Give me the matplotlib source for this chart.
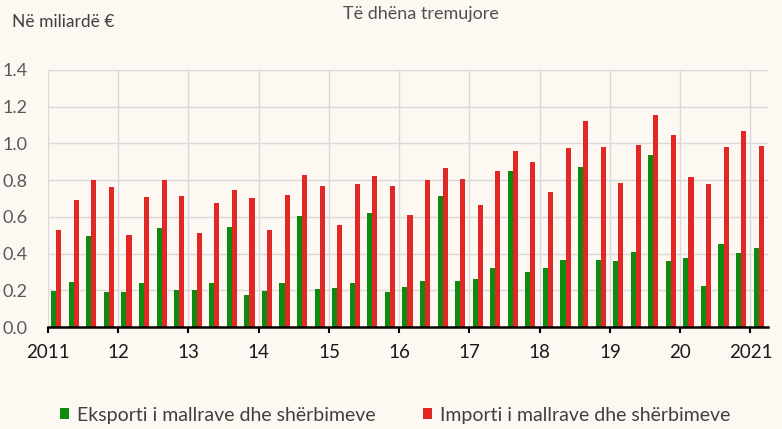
import matplotlib.pyplot as plt
import numpy as np

# quarterly data 2011Q1 - 2021Q1, billions of euro
year_labels = ["2011", "12", "13", "14", "15", "16", "17", "18", "19", "20", "2021"]
exports = [0.197, 0.244, 0.495, 0.189,
           0.189, 0.237, 0.537, 0.202,
           0.204, 0.237, 0.544, 0.173,
           0.194, 0.237, 0.604, 0.209,
           0.211, 0.242, 0.621, 0.189,
           0.220, 0.248, 0.714, 0.248,
           0.260, 0.324, 0.848, 0.297,
           0.324, 0.366, 0.872, 0.366,
           0.357, 0.406, 0.938, 0.357,
           0.377, 0.226, 0.451, 0.402,
           0.433]
imports = [0.526, 0.694, 0.799, 0.763,
           0.499, 0.708, 0.801, 0.714,
           0.512, 0.675, 0.746, 0.705,
           0.528, 0.719, 0.828, 0.766,
           0.553, 0.777, 0.823, 0.766,
           0.608, 0.801, 0.865, 0.808,
           0.663, 0.852, 0.958, 0.897,
           0.735, 0.976, 1.123, 0.981,
           0.783, 0.992, 1.156, 1.045,
           0.816, 0.777, 0.981, 1.069,
           0.987]

bg = "#FDF8F1"
green = "#0E8A0E"
red = "#E22824"
plt.rcParams["font.family"] = ["Lato", "DejaVu Sans"]

fig = plt.figure(figsize=(7.82, 4.29), dpi=100, facecolor=bg)
ax = fig.add_axes([48 / 782, 1 - 327 / 429, 720 / 782, 257 / 429])
ax.set_facecolor(bg)

x = np.arange(len(exports)) + 0.47
w = 0.29
ax.bar(x - w / 2, exports, w, color=green, label="Eksporti i mallrave dhe shërbimeve", zorder=3)
ax.bar(x + w / 2, imports, w, color=red, label="Importi i mallrave dhe shërbimeve", zorder=3)

ax.set_xlim(0, len(exports))
ax.set_ylim(0, 1.4)
ax.set_yticks(np.arange(0, 1.41, 0.2))
ax.set_yticklabels([f"{v:.1f}" for v in np.arange(0, 1.41, 0.2)], color="#595959", fontsize=13)
ax.set_xticks(np.arange(0, 41, 4))
ax.set_xticklabels(year_labels, fontsize=13.5, color="#1a1a1a")
ax.tick_params(axis="y", length=0, pad=15)
ax.tick_params(axis="x", length=4.5, width=1.5, color="black", pad=8)
ax.grid(True, color="#D9D9D9", linewidth=1, zorder=0)
for s in ["top", "right", "left"]:
    ax.spines[s].set_visible(False)
ax.spines["bottom"].set_linewidth(1.8)
ax.spines["bottom"].set_zorder(4)

fig.text(12 / 782, 1 - 22 / 429, "Në miliardë €", fontsize=12.5, color="#404040", va="center", ha="left")
fig.text(421 / 782, 1 - 14 / 429, "Të dhëna tremujore", fontsize=13, color="#505050", va="center", ha="center")

leg = fig.legend(loc="center left", bbox_to_anchor=(50 / 782, 1 - 415 / 429), ncol=2, frameon=False,
                 fontsize=14, handlelength=0.5, handleheight=0.5, handletextpad=0.4,
                 columnspacing=2.4, borderpad=0)
for t in leg.get_texts():
    t.set_color("#404040")

fig.savefig("out.png", dpi=100, facecolor=bg)
